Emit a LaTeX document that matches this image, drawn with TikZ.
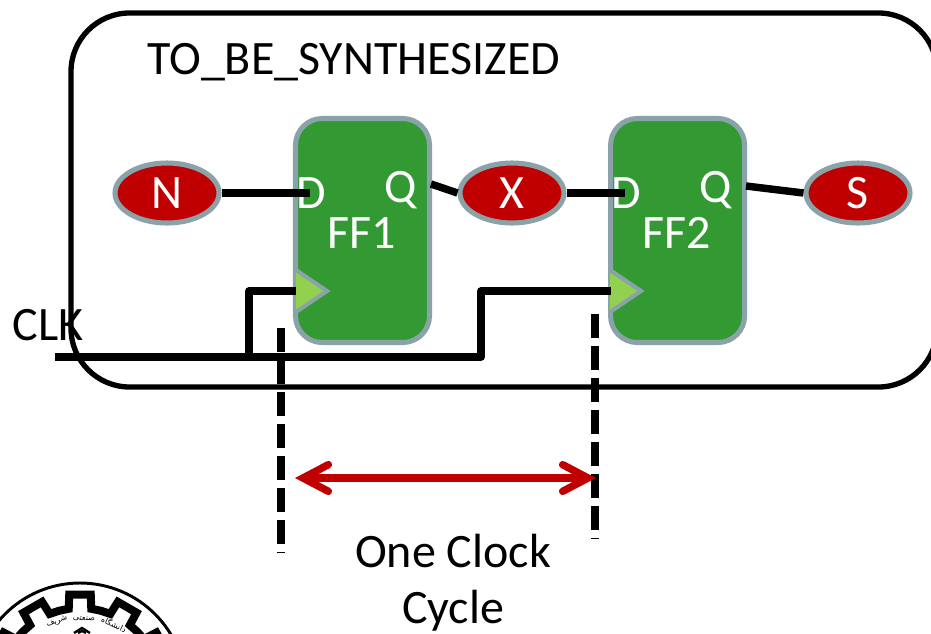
\documentclass[tikz,border=0pt]{standalone}
\usepackage{xcolor}
\usepackage{fontspec}
\setmainfont{Carlito}
\newfontfamily\arabicfont[Script=Arabic]{DejaVu Sans}
\TeXXeTstate=1
\usetikzlibrary{shapes.geometric, arrows.meta, positioning, calc}
\definecolor{Border}{HTML}{8AA3A8}
\definecolor{Green} {HTML}{339933}
\definecolor{Lime}  {HTML}{92D050}
\definecolor{Red}   {HTML}{C00000}
\newcommand{\bigfont}{\fontsize{36}{42}\selectfont}
\tikzset{
  ff/.style={draw=Border, fill=Green, line width=3.8pt, rounded corners=20pt,
             minimum width=100.5pt, minimum height=168pt, inner sep=0pt},
  sig/.style={ellipse, draw=Border, fill=Red, line width=3.8pt, text=white, font=\bigfont,
              minimum width=78pt, minimum height=45pt, inner sep=0pt},
  pin/.style={text=white, font=\bigfont, inner sep=0pt},
  wire/.style={line width=5.6pt, line join=round},
  clkin/.style={draw=Border, fill=Lime, line width=3pt, line join=miter},
  edge/.style={line width=6pt, dash pattern=on 18pt off 6pt},
  span/.style={{Straight Barb[length=19pt,width=20pt,line width=5.6pt,line cap=round,line join=miter]}-{Straight Barb[length=19pt,width=20pt,line width=5.6pt,line cap=round,line join=miter]},
               line width=5.6pt, color=Red},
  word/.style={font=\arabicfont\fontsize{6}{7}\selectfont, inner sep=0pt}
}

\begin{document}
\begin{tikzpicture}[x=0.75pt,y=-0.75pt]
  \clip (0,0) rectangle (931,633);
  \draw[line width=4pt,rounded corners=44pt] (71,13) rectangle (937,387);
  \node[font=\bigfont,anchor=west,inner sep=0pt] (title) at (147,62) {TO\_BE\_SYNTHESIZED};
  \node[font=\bigfont,inner sep=0pt] (clk) at (48,325) {CLK};
  % flip flops
  \node[ff] (FF1) at (362.5,230.5) {};
  \node[ff,right=132pt of FF1] (FF2) {};
  \node[sig] (N) at (167,193) {N};
  \node[sig] (X) at (512,193) {X};
  \node[sig] (S) at (858,193) {S};
  \node[pin] (D1) at (311,193) {D};
  \node[pin] (Q1) at (401,190) {Q};
  \node[pin] (L1) at (362,233) {FF1};
  \node[pin] (D2) at (626,193) {D};
  \node[pin] (Q2) at (716,190) {Q};
  \node[pin] (L2) at (677,233) {FF2};
  \coordinate (Din1)  at (310,193);
  \coordinate (Din2)  at (625,193);
  \coordinate (Qout1) at (431,184);
  \coordinate (Qout2) at (746,186);
  \coordinate (Ck1)   at (296,291);
  \coordinate (Ck2)   at (611,291);
  \coordinate (Clk)   at (55,357);
  \coordinate (Tap)   at (249,357);
  \coordinate (Rise)  at (481,357);
  % clock inputs
  \draw[clkin] (296,270)--(327,291)--(296,312);
  \fill[Lime] (297,274)--(322,291)--(297,308)--cycle;
  \draw[clkin] (610,270)--(641,291)--(610,312);
  \fill[Lime] (611,274)--(636,291)--(611,308)--cycle;
  % wires
  \draw[wire](N.east)--(Din1);
  \draw[wire](X.east)--(Din2);
  \draw[wire](Qout1)--(X.west);
  \draw[wire](Qout2)--(S.west);
  \draw[wire](Clk)--(Rise)--(Rise|-Ck2)--(Ck2);
  \draw[wire](Tap)--(Tap|-Ck1)--(Ck1);
  % cycle marks
  \coordinate (E1a) at (281,328);
  \coordinate (E1b) at (281,553);
  \coordinate (E2a) at (595,314);
  \coordinate (E2b) at (595,539);
  \draw[edge](E1a)--(E1b);
  \draw[edge](E2a)--(E2b);
  \coordinate (Sp1) at (295,478);
  \coordinate (Sp2) at (596,478);
  \draw[span](Sp1)--(Sp2);
  \node[font=\bigfont,align=center,inner sep=0pt] (cycle) at (453,583) {One Clock\\Cycle};
  % logo
  \coordinate (Logo) at (80,689);
  \draw[line width=2.2pt] (Logo) circle (106);
  \draw[line width=6pt,fill=white,line join=miter]
    ($(Logo)+(90-15:81)$)
    \foreach \a in {0,30,...,330}{
      -- ($(Logo)+(90+\a-8:81)$) -- ($(Logo)+(90+\a-6.5:95)$) -- ($(Logo)+(90+\a+6.5:95)$) -- ($(Logo)+(90+\a+8:81)$) -- ($(Logo)+(90+\a+15:81)$)
    } -- cycle;
  \node[word,rotate=-3] (w2) at (84,619) {\beginR صنعتی\endR};
  \node[word,rotate=-24] (w1) at (114,624) {\beginR دانشگاه\endR};
  \node[word,rotate=20] (w3) at (57,622) {\beginR شریف\endR};
  \draw[line width=1.8pt] (74,633)--(82,628)--(90,633);
  \draw[line width=1.8pt] (78,633)--(82,631)--(86,633);
\end{tikzpicture}
\end{document}
